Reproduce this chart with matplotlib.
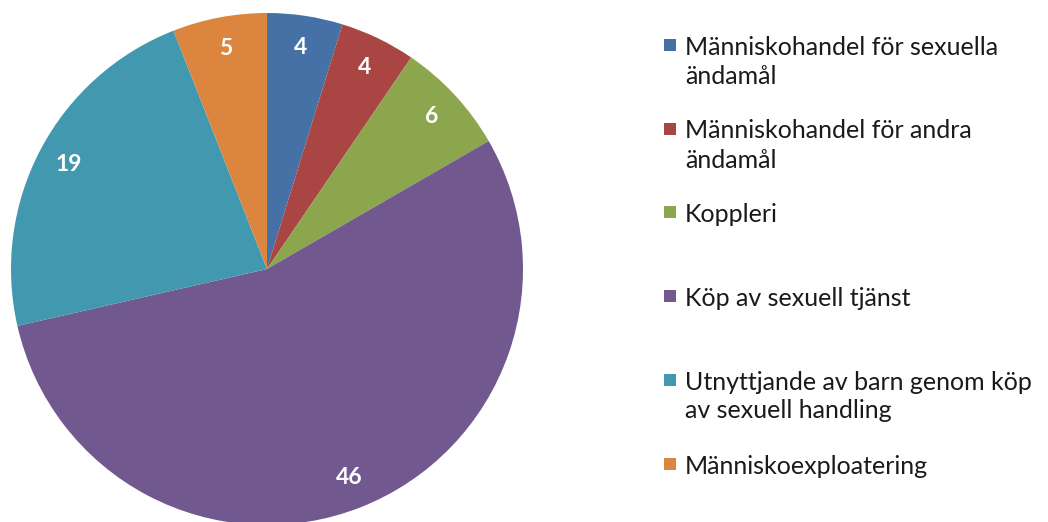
import matplotlib.pyplot as plt
from matplotlib.patches import Rectangle

W, H = 1048, 522

categories = [
    "Människohandel för sexuella\nändamål",
    "Människohandel för andra\nändamål",
    "Koppleri",
    "Köp av sexuell tjänst",
    "Utnyttjande av barn genom köp\nav sexuell handling",
    "Människoexploatering",
]
values = [4, 4, 6, 46, 19, 5]
colors = ["#4571A7", "#A94644", "#8BA64C", "#71588F", "#4198AF", "#DC853E"]

plt.rcParams["font.family"] = ["Lato", "DejaVu Sans"]

fig = plt.figure(figsize=(W / 100, H / 100), dpi=100)

# pie placed by pixel centre / radius
cx, cy, r = 267, 269, 256
ax = fig.add_axes([(cx - r) / W, (H - cy - r) / H, 2 * r / W, 2 * r / H])
wedges, texts = ax.pie(
    values,
    colors=colors,
    startangle=90,
    counterclock=False,
    radius=1,
    labels=[str(v) for v in values],
    labeldistance=0.875,
    wedgeprops=dict(linewidth=0),
    textprops=dict(color="white", fontsize=16.5, fontweight="bold"),
)
for t in texts:
    t.set_ha("center")
    t.set_va("center")
ax.set_xlim(-1, 1)
ax.set_ylim(-1, 1)
ax.set_aspect("equal")
ax.axis("off")

# legend drawn by hand, Excel style
entry_y = [45, 129, 212, 296, 380, 464]
line_h = 29
for lab, col, y0 in zip(categories, colors, entry_y):
    fig.patches.append(
        Rectangle((664 / W, 1 - (y0 + 6) / H), 12 / W, 12 / H,
                  transform=fig.transFigure, facecolor=col, edgecolor="none")
    )
    for i, line in enumerate(lab.split("\n")):
        fig.text(685 / W, 1 - (y0 + i * line_h) / H, line,
                 fontsize=18, color="#1a1a1a", ha="left", va="center_baseline")

fig.savefig("out.png", dpi=100)
